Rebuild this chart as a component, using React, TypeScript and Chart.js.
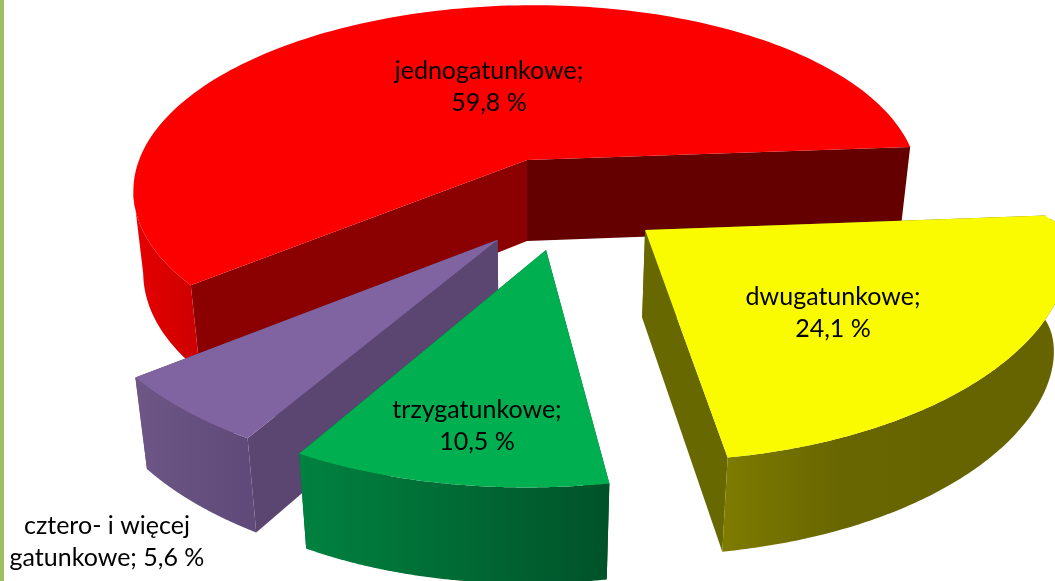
import React, { useEffect, useRef } from "react";
import { Chart, registerables } from "chart.js";

Chart.register(...registerables);

const categories = ["jednogatunkowe", "dwugatunkowe", "trzygatunkowe", "cztero- i więcej gatunkowe"];
const shares = [59.8, 24.1, 10.5, 5.6];
const topColors = ["#FC0000", "#FBFB00", "#00AF50", "#8064A2"];
const startFaceColors = ["#8B0000", "#666600", "#005A2A", "#5B4672"];
const endFaceColors = ["#640000", "#686800", "#005A2A", "#5B4672"];
const wallStops = [
  ["#E60000", "#D00000"],
  ["#7D7B00", "#686600", "#666400", "#666400"],
  ["#008240", "#006B35", "#005228"],
  ["#6E5787", "#655080", "#5F4A7A"],
];

// Layout of the 3D projection, not data
const view = { cx: 527, cy: 160, a: 388, d: 0.025 };
// per slice: b, k, wall height (rim / apex), explode x/y, radius x/y, skew, tilt, rim shaping g/q
const sliceView = [
  { b: 178, k: 0.15, h: 83, ah: 83, ox: 0, oy: 0, rx: 1.0, ry: 1, skew: 0, tilt: -0.02, g: 0, q: 1 },
  { b: 163, k: 0.05, h: 96, ah: 90, ox: 0.298, oy: 0.42, rx: 1.03, ry: 1.27, skew: 0.04, tilt: -0.06, g: 0.1, q: 1.35 },
  { b: 180, k: 0.18, h: 83, ah: 83, ox: 0.045, oy: 0.459, rx: 0.97, ry: 0.91, skew: 0.008, tilt: -0.05, g: 0, q: 1 },
  { b: 180, k: 0.18, h: 83, ah: 83, ox: -0.07, oy: 0.41, rx: 0.99, ry: 0.937, skew: 0.027, tilt: 0, g: 0, q: 1 },
];
const paintOrder = [0, 3, 2, 1];
const labelPos = [[489, 71], [833, 297], [477, 410], [107, 526]];
const pct = (v: number) => String(v).replace(".", ",") + " %";
const labelLines = [
  [categories[0] + ";", pct(shares[0])],
  [categories[1] + ";", pct(shares[1])],
  [categories[2] + ";", pct(shares[2])],
  ["cztero- i więcej", "gatunkowe; " + pct(shares[3])],
];

const pie3d = {
  id: "pie3d",
  beforeDraw(chart: any) {
    const { ctx } = chart;
    ctx.save();
    ctx.fillStyle = "#FFFFFF";
    ctx.fillRect(0, 0, chart.width, chart.height);
    ctx.fillStyle = "#9EC05E";
    ctx.fillRect(0, 0, 4, chart.height);
    ctx.restore();
  },
  beforeDatasetDraw(chart: any) {
    const ctx = chart.ctx;
    const meta = chart.getDatasetMeta(0);
    const poly = (pts: [number, number][], fill: any) => {
      ctx.beginPath();
      pts.forEach((p, i) => (i ? ctx.lineTo(p[0], p[1]) : ctx.moveTo(p[0], p[1])));
      ctx.closePath();
      ctx.fillStyle = fill;
      ctx.fill();
    };
    ctx.save();
    paintOrder.forEach((i) => {
      const arc = meta.data[i];
      const { startAngle, endAngle } = arc.getProps(["startAngle", "endAngle"], true);
      const s = sliceView[i];
      const proj = (X: number, Y: number, bottom: boolean, h = s.h): [number, number] => {
        const w = 1 - s.k * Y + (bottom ? view.d : 0);
        return [view.cx + (view.a * X) / w, view.cy + (s.b * Y + (bottom ? h : 0)) / w];
      };
      const at = (t: number): [number, number] => {
        const sn = Math.sin(t);
        return [
          s.ox + s.rx * Math.cos(t) + s.skew * sn + s.g * Math.sin(2 * t),
          s.oy + s.ry * Math.sign(sn) * Math.pow(Math.abs(sn), s.q) + s.tilt * Math.cos(t),
        ];
      };
      const N = 160;
      const angles: number[] = [];
      for (let n = 0; n <= N; n++) angles.push(startAngle + ((endAngle - startAngle) * n) / N);

      const face = (t: number, col: string) => {
        const [x, y] = at(t);
        poly([proj(s.ox, s.oy, false), proj(x, y, false), proj(x, y, true), proj(s.ox, s.oy, true, s.ah)], col);
      };
      face(startAngle, startFaceColors[i]);
      face(endAngle, endFaceColors[i]);

      const vis = angles.filter((t) => Math.sin(t) >= (Math.cos(t) < 0 ? 0.15 : -0.02));
      if (vis.length > 1) {
        const top = vis.map((t) => proj(at(t)[0], at(t)[1], false));
        const bot = vis.map((t) => proj(at(t)[0], at(t)[1], true)).reverse();
        const xs = top.map((p) => p[0]);
        const g = ctx.createLinearGradient(Math.min(...xs), 0, Math.max(...xs), 0);
        const stops = wallStops[i];
        stops.forEach((c, n) => g.addColorStop(n / (stops.length - 1), c));
        poly([...top, ...bot], g);
      }
      const rim = angles.map((t) => proj(at(t)[0], at(t)[1], false));
      poly([proj(s.ox, s.oy, false), ...rim], arc.options.backgroundColor);
    });
    ctx.restore();
    return false;
  },
  afterDatasetsDraw(chart: any) {
    const ctx = chart.ctx;
    ctx.save();
    ctx.fillStyle = "#000000";
    ctx.font = "25px Lato";
    ctx.textAlign = "center";
    ctx.textBaseline = "middle";
    labelLines.forEach((lines, i) => {
      lines.forEach((line, n) => ctx.fillText(line, labelPos[i][0], labelPos[i][1] + n * 32));
    });
    ctx.restore();
  },
};

export default function App() {
  const ref = useRef<HTMLCanvasElement>(null);
  useEffect(() => {
    document.body.style.margin = "0";
    const chart = new Chart(ref.current!, {
      type: "pie",
      data: {
        labels: categories,
        datasets: [{ data: shares, backgroundColor: topColors, borderWidth: 0 }],
      },
      options: {
        animation: false,
        responsive: false,
        rotation: 231.6,
        plugins: { legend: { display: false }, tooltip: { enabled: false } },
      },
      plugins: [pie3d],
    } as any);
    return () => chart.destroy();
  }, []);
  return <canvas ref={ref} width={1055} height={581} style={{ display: "block" }} />;
}
